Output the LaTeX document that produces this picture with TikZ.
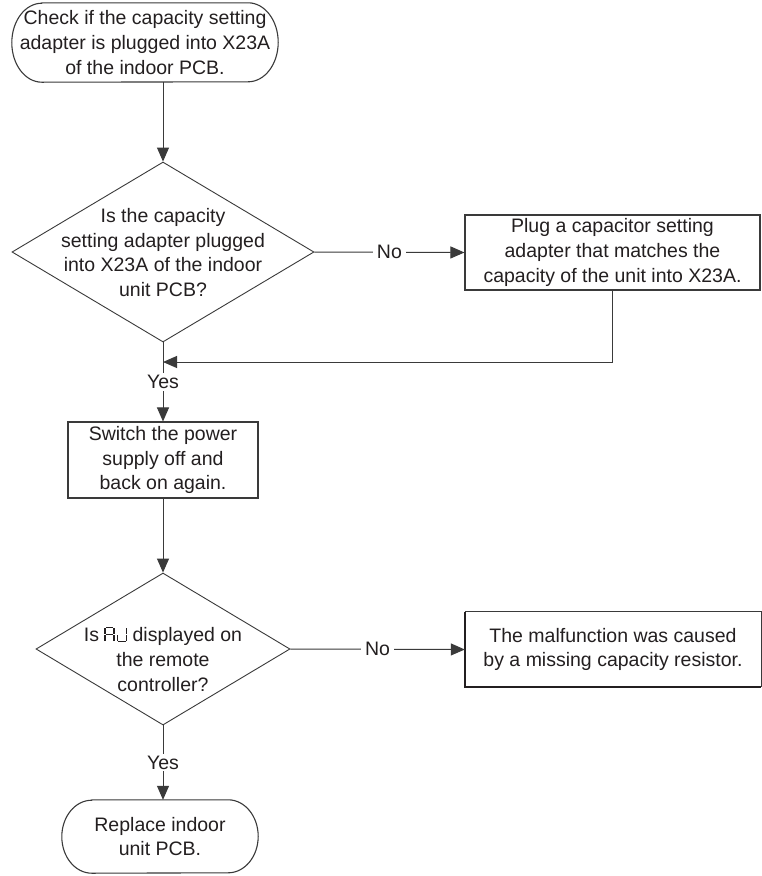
\documentclass[tikz,border=0pt]{standalone}
\usepackage{fontspec}
\setmainfont{Liberation Sans}
\usetikzlibrary{arrows.meta,shapes.geometric}
\definecolor{ink}{HTML}{231F20}
\definecolor{linec}{HTML}{3A3A3A}
\newcommand{\segAJ}{\tikz[baseline=0pt,x=1.15pt,y=1.15pt,line width=1.2pt,draw=ink]{%
  \draw (1,12.4)--(7.4,12.4);
  \draw (0.3,0.3)--(0.3,5.8) (0.3,6.8)--(0.3,11.9);
  \draw (8.1,0.3)--(8.1,5.8) (8.1,6.8)--(8.1,11.9);
  \draw (1,6.3)--(7.4,6.3);
  \draw (19,0.3)--(19,5.8) (19,6.8)--(19,11.9);
  \draw (11.2,0.3)--(11.2,5.8);
  \draw (11.8,-0.1)--(18.4,-0.1);
}}
\begin{document}
\begin{tikzpicture}[x=1pt,y=-1pt,
  font=\fontsize{19.5}{24.8}\selectfont,
  every node/.style={text=ink,align=center,inner sep=0pt},
  conn/.style={draw=linec,line width=1pt},
  arr/.style={conn,-{Triangle[length=14pt,width=12pt]}},
  boxn/.style={draw=linec,line width=1.1pt,minimum width=#1},
  dia/.style={draw=linec,line width=0.9pt,shape=diamond,inner sep=0pt},
  lbl/.style={fill=white,inner xsep=4pt,inner ysep=2pt}]
\useasboundingbox (0,0) rectangle (762,876);
\fill[white] (0,0) rectangle (762,876);

% top terminal
\node[minimum width=266pt,minimum height=79pt] (t1) at (145,42.5)
  {Check if the capacity setting\\adapter is plugged into X23A\\of the indoor PCB.};
\draw[draw=linec,line width=1.1pt] ([xshift=30pt]t1.north west) -- ([xshift=-30pt]t1.north east)
  arc[start angle=90,end angle=-90,x radius=30pt,y radius=39.5pt]
  -- ([xshift=30pt]t1.south west)
  arc[start angle=270,end angle=90,x radius=30pt,y radius=39.5pt] -- cycle;

% diamond 1
\node[dia,minimum width=302pt,minimum height=180pt] (d1) at (163,252) {};
\node (d1t) at (163,252.5) {Is the capacity\\setting adapter plugged\\into X23A of the indoor\\unit PCB?};

% plug box
\node[boxn=295pt,minimum height=75pt] (plug) at (612.5,252.5)
  {Plug a capacitor setting\\adapter that matches the\\capacity of the unit into X23A.};

% switch box
\node[boxn=190pt,minimum height=76pt] (sw) at (163,460)
  {Switch the power\\supply off and\\back on again.};

% diamond 2
\node[dia,minimum width=254pt,minimum height=152pt] (d2) at (163,649) {};
\node (d2t) at (163,659) {Is \segAJ\ displayed on\\the remote\\controller?};

% malfunction box
\node[minimum width=296pt,minimum height=75pt] (mf) at (613,649.5)
  {The malfunction was caused\\by a missing capacity resistor.};
\draw[draw=linec,line width=1pt] (mf.north west) -- (mf.north east) -- (mf.south east);
\draw[draw=ink,line width=2.2pt] (mf.north west) -- (mf.south west) -- (mf.south east);

% bottom terminal
\node[minimum width=196pt,minimum height=73pt] (t2) at (160,836.5)
  {Replace indoor\\unit PCB.};
\draw[draw=linec,line width=1.1pt] ([xshift=30pt]t2.north west) -- ([xshift=-30pt]t2.north east)
  arc[start angle=90,end angle=-90,x radius=30pt,y radius=36.5pt]
  -- ([xshift=30pt]t2.south west)
  arc[start angle=270,end angle=90,x radius=30pt,y radius=36.5pt] -- cycle;

% connectors
\draw[arr] (d1.north |- t1.south) -- (d1.north);
\draw[arr] (d1.east) -- node[lbl]{No} (plug.west);
\coordinate (m1) at (163,362);
\draw[arr] (plug.south) |- (m1);
\draw[arr] (d1.south) -- node[lbl]{Yes} (sw.north);
\draw[arr] (sw.south) -- (d2.north);
\draw[arr] (d2.east) -- node[lbl]{No} (mf.west);
\draw[arr] (d2.south) -- node[lbl]{Yes} (d2.south |- t2.north);
\end{tikzpicture}
\end{document}
